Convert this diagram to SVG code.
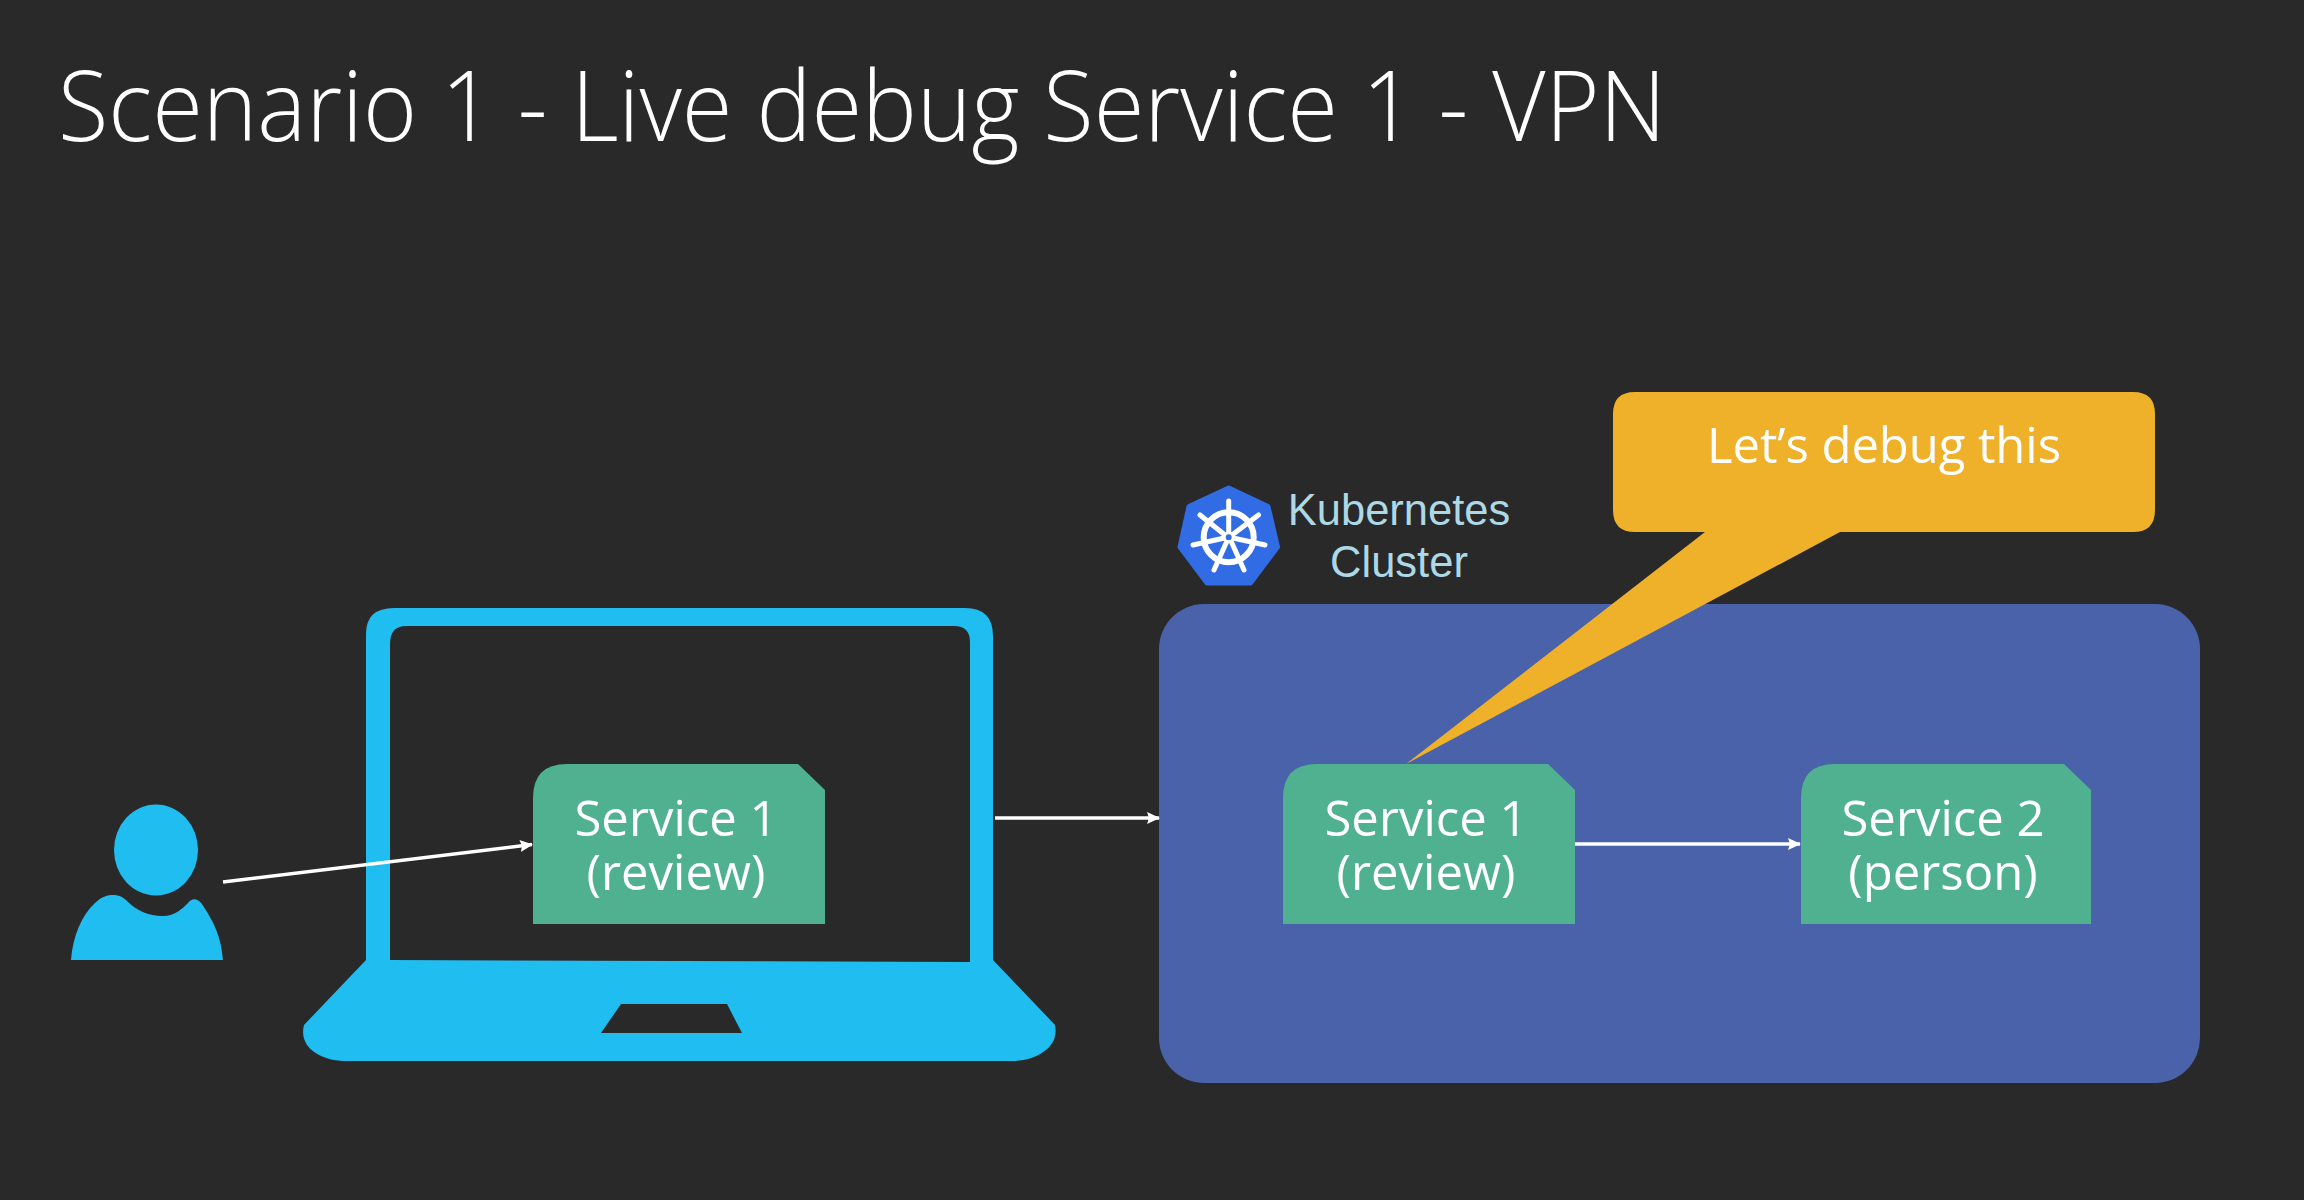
<svg xmlns="http://www.w3.org/2000/svg" width="2304" height="1200" viewBox="0 0 2304 1200">
<style>
.t{font-family:"Open Sans","Noto Sans","Liberation Sans",sans-serif;fill:#fff;text-anchor:middle;font-size:49px}
.k{font-family:"Liberation Sans",Arial,sans-serif;fill:#add8e6;text-anchor:middle;font-size:43.5px}
.c{stroke:#fff;stroke-width:3.500;fill:none;marker-end:url(#a)}
.s{fill:#50b191}
.cy{fill:#20bdf0}
</style>
<defs>
<marker id="a" markerUnits="userSpaceOnUse" markerWidth="13" markerHeight="12" refX="12" refY="6" orient="auto"><path d="M0 0L13 6L0 12L2 6Z" fill="#fff"/></marker>
<path id="sv" d="M0 160V34Q0 0 34 0H265L292 26V160Z"/>
</defs>
<rect width="2304" height="1200" fill="#292929"/>
<text id="title" x="58" y="141" font-family="Open Sans, Noto Sans, sans-serif" font-weight="300" font-size="98" fill="#fff" textLength="1608" lengthAdjust="spacingAndGlyphs">Scenario 1 - Live debug Service 1 - VPN</text>

<g id="person" class="cy">
<ellipse cx="156" cy="850" rx="42" ry="45.500"/>
<path d="M71 960C73 935 82 915 95 903C102 896 108 895 113 895C119 895 123 897 127 901C136 910 148 916 163 916C175 916 183 908 188 903C192 898 197 898 202 904C213 921 221 935 223 960Z"/>
</g>
<g id="laptop">
<path class="cy" fill-rule="evenodd" d="M366 960V634Q366 608 394 608H965Q993 608 993 636V960L1055 1025C1060 1048 1035 1061 1012 1061H346C322 1061 298 1048 304 1025ZM390 644V960L970 962V642Q970 626 954 626H406Q390 626 390 644ZM621 1004L601 1033H742L727 1004Z"/>
</g>
<g id="laptop-service">
<use href="#sv" x="533" y="764" class="s"/>
<text class="t" x="676" y="836">Service 1</text>
<text class="t" x="676" y="890">(review)</text>
</g>
<g id="cluster"><rect x="1159" y="604" width="1041" height="479" rx="45" fill="#4a62a9"/></g>
<g id="k8s-logo">
<path d="M1228.700 488L1268 506.500L1277.500 547L1250.500 583H1207L1180 547L1189 506.500Z" fill="#326ce5" stroke="#326ce5" stroke-width="5" stroke-linejoin="round"/>
<g stroke="#fff" fill="none" stroke-linecap="round">
<circle cx="1228.700" cy="537.300" r="25" stroke-width="6"/>
<path stroke-width="5" d="M1228.700 533V501M1232 535L1258.500 515M1233 538L1265 545M1231 541L1244 570M1227 541L1214 570M1224.500 538L1193 545M1225 535L1200 515"/>
<circle cx="1228.700" cy="537.300" r="4.500" fill="#326ce5" stroke-width="3"/>
</g>
</g>
<g id="k8s-label">
<text class="k" x="1399" y="525">Kubernetes</text>
<text class="k" x="1399" y="577">Cluster</text>
</g>
<g id="cluster-service-1">
<use href="#sv" x="1283" y="764" class="s"/>
<text class="t" x="1426" y="836">Service 1</text>
<text class="t" x="1426" y="890">(review)</text>
</g>
<g id="cluster-service-2">
<path class="s" d="M1801 924V798Q1801 764 1835 764H2064L2091 790V924Z"/>
<text class="t" x="1943" y="836">Service 2</text>
<text class="t" x="1943" y="890">(person)</text>
</g>
<g id="callout">
<path d="M1635 392H2133Q2155 392 2155 414V510Q2155 532 2133 532H1840L1406 764L1705 532H1635Q1613 532 1613 510V414Q1613 392 1635 392Z" fill="#efb12a"/>
<text class="t" x="1884" y="463" textLength="354">Let’s debug this</text>
</g>
<g id="connectors">
<line class="c" x1="223" y1="882" x2="532" y2="844.500"/>
<line class="c" x1="995" y1="818" x2="1159" y2="818"/>
<line class="c" x1="1575" y1="844" x2="1800" y2="844"/>
</g>
</svg>
